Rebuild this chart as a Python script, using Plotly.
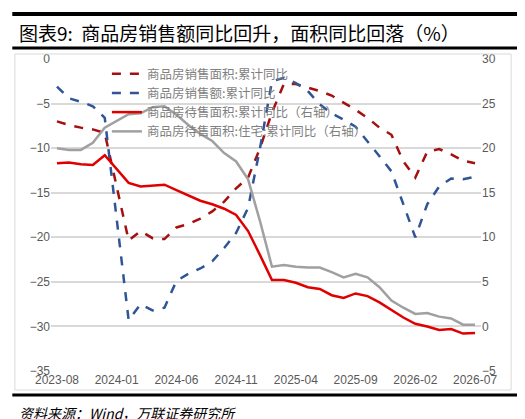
import plotly.graph_objects as go

# 月份 2023-08 ~ 2026-07（1月数据缺失，与2月合并）
months = [f"{2023 + (7 + i) // 12}-{(7 + i) % 12 + 1:02d}" for i in range(36)]

sales_area = [-7.0, -7.4, -7.7, -7.9, -8.3, None, -20.35, -19.3, -20.1, -20.2, -18.9, -18.5,
              -17.9, -17.1, -16.0, -14.5, -13.3, -10.0, -6.0, -2.8, -2.8, -3.2, -3.6, -4.1,
              -4.9, -5.7, -6.6, -7.7, -8.5, -11.5, -13.3, -10.4, -10.1, -10.7, -11.4, -11.7]
sales_amount = [-3.1, -4.4, -4.8, -5.3, -6.6, None, -29.3, -27.5, -28.2, -27.9, -24.9, -24.1,
                -23.5, -22.7, -21.2, -19.5, -16.7, -10.0, -2.5, -2.1, -2.7, -3.6, -5.1, -6.1,
                -6.8, -7.6, -9.2, -10.9, -12.6, -16.2, -20.0, -16.3, -14.3, -13.4, -13.5, -13.2]
unsold_area = [18.3, 18.4, 18.2, 18.1, 19.2, None, 16.1, 15.7, 15.8, 15.9, 15.3, 14.7,
               14.1, 13.7, 13.2, 12.5, 10.7, 8.0, 5.2, 5.2, 4.9, 4.4, 4.2, 3.5,
               3.2, 3.7, 3.4, 2.7, 1.8, 1.0, 0.3, 0.0, -0.4, -0.3, -0.8, -0.75]
unsold_resi = [20.0, 19.8, 19.8, 20.6, 22.3, None, 23.8, 23.9, 24.6, 24.7, 23.75, 22.6,
               21.6, 20.8, 19.45, 18.5, 16.5, 11.8, 6.7, 6.9, 6.7, 6.6, 6.6, 6.1,
               5.5, 5.9, 5.5, 4.4, 2.9, 2.1, 1.4, 1.5, 1.1, 0.9, 0.2, 0.2]
tick_labels = ["2023-08", "2024-01", "2024-06", "2024-11", "2025-04", "2025-09", "2026-02", "2026-07"]

fig = go.Figure()
fig.add_trace(go.Scatter(x=months, y=sales_area, name="商品房销售面积:累计同比", connectgaps=True,
                         line=dict(color="#A50F0F", width=2.5, dash="dash")))
fig.add_trace(go.Scatter(x=months, y=sales_amount, name="商品房销售额:累计同比", connectgaps=True,
                         line=dict(color="#2F5597", width=2.5, dash="dash")))
fig.add_trace(go.Scatter(x=months, y=unsold_area, name="商品房待售面积:累计同比（右轴）", connectgaps=True,
                         yaxis="y2", line=dict(color="#E00000", width=2.5)))
fig.add_trace(go.Scatter(x=months, y=unsold_resi, name="商品房待售面积:住宅:累计同比（右轴）", connectgaps=True,
                         yaxis="y2", line=dict(color="#A0A0A0", width=2.5)))

tick_font = dict(family="Liberation Sans, Arial", size=12, color="#595959")
line_k = dict(color="black", width=3)
fig.update_layout(
    width=525, height=419,
    margin=dict(l=43, r=52, t=51, b=56, autoexpand=False),
    paper_bgcolor="white", plot_bgcolor="white",
    showlegend=True,
    legend=dict(x=0.13, y=1.0, xanchor="left", yanchor="top", bgcolor="rgba(0,0,0,0)",
                font=dict(family="Noto Sans CJK SC", size=12.5, color="#7F7F7F"),
                tracegroupgap=0),
    xaxis=dict(type="category", range=[-0.5, 35.5], tickvals=tick_labels, ticks="",
               showgrid=False, showline=False, tickfont=tick_font),
    yaxis=dict(range=[-35, 0], dtick=5, showgrid=True, gridcolor="#D9D9D9", gridwidth=1.5,
               zeroline=False, tickfont=tick_font),
    yaxis2=dict(range=[-5, 30], dtick=5, overlaying="y", side="right", showgrid=False,
                zeroline=False, tickfont=tick_font),
    shapes=[
        dict(type="line", xref="paper", yref="paper", x0=-0.09, x1=1.11, y0=1.144, y1=1.144, line=dict(color="black", width=4)),
        dict(type="line", xref="paper", yref="paper", x0=-0.09, x1=1.11, y0=1.035, y1=1.035, line=line_k),
        dict(type="line", xref="paper", yref="paper", x0=-0.09, x1=1.105, y0=-0.077, y1=-0.077, line=line_k),
        dict(type="rect", xref="paper", yref="paper", x0=-0.084, x1=1.07, y0=-0.061, y1=1.016,
             line=dict(color="#D9D9D9", width=1)),
    ],
    annotations=[
        dict(text="图表9:  商品房销售额同比回升，面积同比回落（%）", xref="paper", yref="paper",
             x=-0.08, y=1.085, xanchor="left", yanchor="middle", showarrow=False,
             font=dict(family="Noto Sans CJK SC", size=19, color="black")),
        dict(text="<i>资料来源：Wind，万联证券研究所</i>", xref="paper", yref="paper",
             x=-0.08, y=-0.135, xanchor="left", yanchor="middle", showarrow=False,
             font=dict(family="Noto Sans CJK SC", size=14, color="black")),
    ],
)

fig.write_html("out.html")
